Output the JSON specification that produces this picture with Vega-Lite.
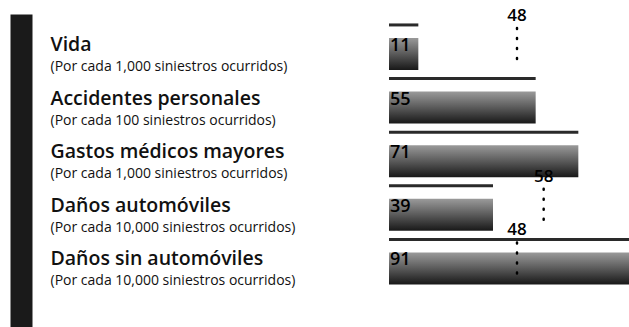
{
  "$schema": "https://vega.github.io/schema/vega-lite/v6.json",
  "width": 240,
  "height": 313,
  "autosize": {"type": "none"},
  "padding": {"left": 389, "top": 14, "right": 0, "bottom": 0},
  "background": "white",
  "config": {"view": {"stroke": null}, "font": "Open Sans"},
  "data": {
    "values": [
      {"fila": "Vida|(Por cada 1,000 siniestros ocurridos)", "valor": 11, "ref": 48},
      {"fila": "Accidentes personales|(Por cada 100 siniestros ocurridos)", "valor": 55, "ref": null},
      {"fila": "Gastos médicos mayores|(Por cada 1,000 siniestros ocurridos)", "valor": 71, "ref": null},
      {"fila": "Daños automóviles|(Por cada 10,000 siniestros ocurridos)", "valor": 39, "ref": 58},
      {"fila": "Daños sin automóviles|(Por cada 10,000 siniestros ocurridos)", "valor": 91, "ref": 48}
    ]
  },
  "layer": [
    {
      "mark": {
        "type": "bar",
        "clip": true,
        "color": {
          "gradient": "linear", "x1": 0, "y1": 0, "x2": 0, "y2": 1,
          "stops": [{"offset": 0, "color": "#9a9a9a"}, {"offset": 0.5, "color": "#5a5a5a"}, {"offset": 1, "color": "#181818"}]
        }
      },
      "encoding": {
        "y": {
          "field": "fila", "type": "nominal", "sort": null,
          "scale": {"paddingInner": 0.403, "paddingOuter": 0.62, "align": 0.36},
          "axis": {
            "orient": "left", "offset": 368, "title": null, "ticks": false, "grid": false,
            "domainColor": "#1a1a1a", "domainWidth": 22,
            "labelExpr": "split(datum.label, '|')[0]",
            "labelAlign": "left", "labelPadding": -29, "labelFontSize": 19.5, "labelFontWeight": 600,
            "labelColor": "#111111", "labelOffset": -9, "labelLimit": 400
          }
        },
        "x": {"field": "valor", "type": "quantitative", "scale": {"domain": [0, 89]}, "axis": null}
      }
    },
    {
      "mark": {"type": "bar", "clip": true, "height": 3, "yOffset": -29, "color": "#2a2a2a"},
      "encoding": {
        "y": {"field": "fila", "type": "nominal", "sort": null, "axis": null},
        "x": {"field": "valor", "type": "quantitative"}
      }
    },
    {
      "transform": [{"filter": "isValid(datum.ref)"}],
      "mark": {"type": "rule", "strokeDash": [1, 9], "strokeWidth": 2.5, "strokeCap": "round", "color": "black", "yOffset": -10, "y2Offset": -8},
      "encoding": {
        "y": {"field": "fila", "type": "nominal", "sort": null, "axis": null, "bandPosition": 0},
        "y2": {"field": "fila", "bandPosition": 1},
        "x": {"field": "ref", "type": "quantitative"}
      }
    },
    {
      "mark": {"type": "text", "align": "left", "dx": 1, "dy": -8, "fontSize": 18, "fontWeight": 600, "color": "black"},
      "encoding": {
        "y": {
          "field": "fila", "type": "nominal", "sort": null,
          "axis": {
            "orient": "left", "offset": 368, "title": null, "ticks": false, "grid": false, "domain": false,
            "labelExpr": "split(datum.label, '|')[1]",
            "labelAlign": "left", "labelPadding": -29, "labelFontSize": 14,
            "labelColor": "#111111", "labelOffset": 13, "labelLimit": 400
          }
        },
        "x": {"datum": 0, "type": "quantitative"},
        "text": {"field": "valor", "type": "quantitative"}
      }
    },
    {
      "transform": [{"filter": "isValid(datum.ref)"}],
      "mark": {"type": "text", "align": "center", "dy": -38, "fontSize": 17, "fontWeight": 600, "color": "black"},
      "encoding": {
        "y": {"field": "fila", "type": "nominal", "sort": null, "axis": null},
        "x": {"field": "ref", "type": "quantitative"},
        "text": {"field": "ref", "type": "quantitative"}
      }
    }
  ],
  "resolve": {"axis": {"y": "independent"}}
}
